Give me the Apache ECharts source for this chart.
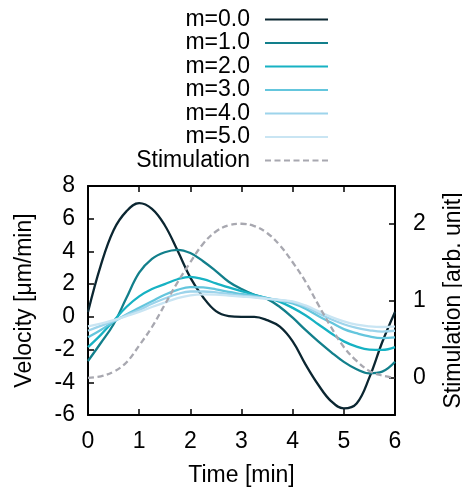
<!DOCTYPE html>
<html>
<head>
<meta charset="utf-8">
<script src="https://cdn.jsdelivr.net/npm/echarts@6/dist/echarts.min.js"></script>
<style>
  html, body { margin: 0; padding: 0; background: #fff; }
  #chart { width: 462px; height: 491px; }
</style>
</head>
<body>
<div id="chart"></div>
<script>
// time axis (min), read every 0.25 min
const timeMin = [0, 0.25, 0.5, 0.75, 1, 1.25, 1.5, 1.75, 2, 2.25, 2.5, 2.75, 3,
  3.25, 3.5, 3.75, 4, 4.25, 4.5, 4.75, 5, 5.25, 5.5, 5.75, 6];

// velocity [um/min] for each m
const m0 = [0.3, 3.15, 5.3, 6.45, 6.95, 6.6, 5.6, 4.05, 2.4, 1.2, 0.35, 0.05, 0.0,
  0.0, -0.2, -0.6, -1.5, -2.9, -4.15, -5.15, -5.6, -5.3, -3.7, -1.55, 0.3];
const m1 = [-2.7, -1.6, -0.45, 1.15, 2.7, 3.55, 3.95, 4.1, 3.9, 3.4, 2.8, 2.15, 1.7,
  1.35, 1.1, 0.6, -0.05, -0.8, -1.5, -2.15, -2.75, -3.2, -3.45, -3.35, -2.75];
const m2 = [-1.85, -1.1, -0.25, 0.6, 1.25, 1.7, 2.0, 2.3, 2.45, 2.3, 2.05, 1.8, 1.57,
  1.35, 1.15, 0.92, 0.55, 0.1, -0.45, -1.0, -1.5, -1.82, -2.0, -2.02, -1.85];
const m3 = [-1.25, -0.8, -0.3, 0.15, 0.55, 0.95, 1.35, 1.65, 1.82, 1.8, 1.68, 1.52, 1.4,
  1.28, 1.15, 1.0, 0.82, 0.5, 0.05, -0.35, -0.75, -1.0, -1.2, -1.3, -1.25];
const m4 = [-0.85, -0.55, -0.25, 0.1, 0.42, 0.8, 1.12, 1.4, 1.55, 1.55, 1.5, 1.4, 1.3,
  1.22, 1.12, 1.02, 0.9, 0.62, 0.22, -0.15, -0.45, -0.68, -0.82, -0.9, -0.85];
const m5 = [-0.58, -0.42, -0.2, 0.05, 0.3, 0.6, 0.88, 1.15, 1.32, 1.38, 1.36, 1.3, 1.24,
  1.18, 1.1, 1.03, 0.95, 0.7, 0.35, 0.0, -0.28, -0.48, -0.58, -0.62, -0.58];

// stimulation [arb. unit]
const stim = [0, 0.02, 0.08, 0.2, 0.42, 0.66, 0.95, 1.24, 1.5, 1.74, 1.9, 1.98, 2.0,
  1.97, 1.88, 1.72, 1.5, 1.25, 0.95, 0.66, 0.4, 0.22, 0.09, 0.03, 0];

const names = ["m=0.0", "m=1.0", "m=2.0", "m=3.0", "m=4.0", "m=5.0"];
const velocity = [m0, m1, m2, m3, m4, m5];
const colors = ["#0b2631", "#127f8b", "#17b2c3", "#64c6dd", "#9dd4eb", "#c9e5f3"];

const font = "Liberation Sans, Arial, Helvetica, sans-serif";
const fs = 23;

function pairs(arr) {
  return timeMin.map((t, i) => [t, arr[i]]);
}

let series = velocity.map((arr, k) => ({
  name: names[k],
  type: "line",
  data: pairs(arr),
  smooth: 0.4,
  symbol: "none",
  xAxisIndex: 0,
  yAxisIndex: 0,
  lineStyle: { color: colors[k], width: 2.3 },
  itemStyle: { color: colors[k] }
}));
series.push({
  name: "Stimulation",
  type: "line",
  data: pairs(stim),
  smooth: 0.4,
  symbol: "none",
  xAxisIndex: 0,
  yAxisIndex: 1,
  lineStyle: { color: "#a8a8b0", width: 2.3, type: [6, 3.5] },
  itemStyle: { color: "#a8a8b0" }
});

let frameLine = { onZero: false, lineStyle: { color: "#000", width: 2 } };
let tick = { show: true, inside: true, length: 6, lineStyle: { color: "#000", width: 1.5 } };

let chart = echarts.init(document.getElementById("chart"));
chart.setOption({
  animation: false,
  textStyle: { fontFamily: font },
  legend: {
    orient: "vertical",
    align: "right",
    right: 128,
    top: 3,
    itemWidth: 63,
    itemHeight: 14,
    itemGap: 0.5,
    itemStyle: { opacity: 0 },
    textStyle: { fontSize: fs, color: "#000", fontFamily: font, padding: [0, 10, 0, 0] },
    data: names.concat(["Stimulation"])
  },
  grid: { left: 88, right: 67, top: 186, bottom: 76, outerBoundsMode: "none" },
  xAxis: [
    {
      type: "value", min: 0, max: 6, interval: 1,
      name: "Time [min]", nameLocation: "middle", nameGap: 49,
      nameTextStyle: { fontSize: fs, color: "#000", fontFamily: font },
      axisLine: frameLine,
      axisTick: tick,
      axisLabel: { fontSize: fs, color: "#000", margin: 15, fontFamily: font },
      splitLine: { show: false }
    },
    {
      type: "value", min: 0, max: 6, interval: 1, position: "top",
      axisLine: frameLine,
      axisTick: tick,
      axisLabel: { show: false },
      splitLine: { show: false }
    }
  ],
  yAxis: [
    {
      type: "value", min: -6, max: 8, interval: 2,
      name: "Velocity [μm/min]", nameLocation: "middle", nameGap: 52,
      nameTextStyle: { fontSize: fs, color: "#000", fontFamily: font },
      axisLine: Object.assign({ show: true }, frameLine),
      axisTick: tick,
      axisLabel: { fontSize: fs, color: "#000", margin: 13, fontFamily: font },
      splitLine: { show: false }
    },
    {
      type: "value", min: -0.482, max: 2.49, position: "right",
      name: "Stimulation [arb. unit]", nameLocation: "middle", nameGap: 47, nameRotate: 90,
      nameTextStyle: { fontSize: fs, color: "#000", fontFamily: font },
      axisLine: Object.assign({ show: true }, frameLine),
      axisTick: Object.assign({ customValues: [0, 1, 2] }, tick),
      axisLabel: { fontSize: fs, color: "#000", margin: 18, fontFamily: font, customValues: [0, 1, 2] },
      splitLine: { show: false }
    }
  ],
  series: series
});
</script>
</body>
</html>
